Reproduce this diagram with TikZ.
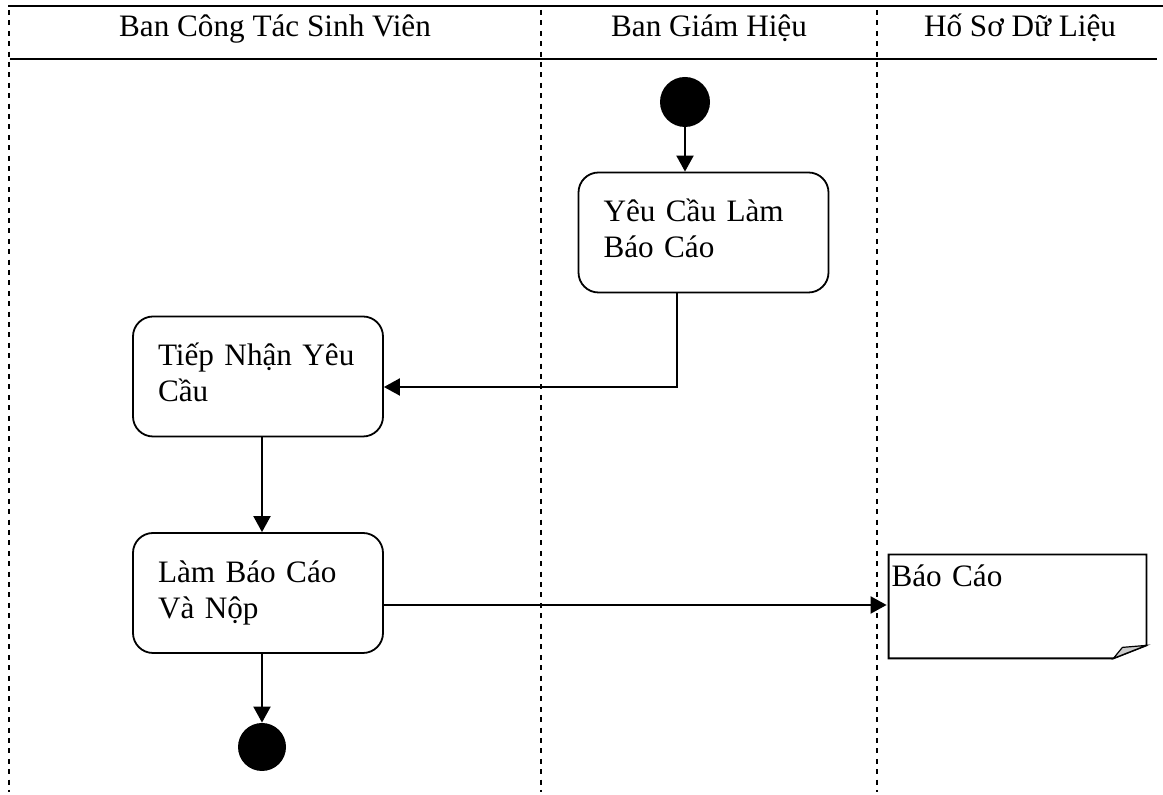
\documentclass[tikz,border=0pt]{standalone}
\usepackage{fontspec}
\setmainfont{Liberation Serif}
\usetikzlibrary{arrows.meta}
\definecolor{fold}{rgb}{0.8,0.8,0.8}
\tikzset{%
  lane/.style={line width=1pt,dash pattern=on 2.5pt off 2.7pt},
  action/.style={draw,line width=0.9pt,rounded corners=10pt,
    minimum width=125pt,minimum height=60pt,text width=100pt,
    inner xsep=12.5pt,align=left,text height=8.5pt,text depth=19pt},
  notebox/.style={minimum width=128.5pt,minimum height=51.5pt,
    text width=126pt,inner xsep=1.25pt,align=left,
    text height=4pt,text depth=23.5pt},
  dot/.style={circle,fill=black,inner sep=0pt,minimum size=#1},
  dot/.default=25pt,
  flow/.style={line width=1pt,-{Triangle[length=8pt,width=8.5pt]}},
  head/.style={anchor=base}
}

\begin{document}
\begin{tikzpicture}[x=0.5pt,y=-0.5pt,font=\fontsize{15.6}{18}\selectfont]
  \useasboundingbox (0,0) rectangle (1163,795);
  %%% Swimlanes
  \draw[line width=1.4pt] (8,6) -- (1163,6);
  \draw[line width=1pt] (10,59) -- (1157,59);
  \foreach \x in {9,541,877} \draw[lane] (\x,10) -- (\x,792);
  \node[head] (bctsv) at (275,37) {Ban Công Tác Sinh Viên};
  \node[head] (bgh) at (709,37) {Ban Giám Hiệu};
  \node[head] (hsdl) at (1020,37) {Hố Sơ Dữ Liệu};
  %
  \node[dot] (start) at (685,102) {};
  \node[dot=24pt] (stop) at (262,747) {};
  %
  \node[action] (yc) at (703.5,232.5) {Yêu Cầu Làm\\Báo Cáo};
  \node[action] (tn) at (258,376.5) {Tiếp Nhận Yêu\\Cầu};
  \node[action] (lb) at (258,593) {Làm Báo Cáo\\Và Nộp};
  %%% Report document
  \node[notebox] (bc) at (1017.5,606.5) {Báo Cáo};
  \draw[line width=0.9pt] (bc.north west) -- (bc.north east)
    -- ([yshift=6.5pt]bc.south east) -- ([xshift=-16.5pt]bc.south east)
    -- (bc.south west) -- cycle;
  \filldraw[fill=fold,line width=0.6pt] ([xshift=-16.5pt]bc.south east)
    -- ([xshift=-12pt,yshift=5.5pt]bc.south east)
    -- ([yshift=6.5pt]bc.south east) -- cycle;
  %%% Flows
  \coordinate (turn) at (677,387);
  \coordinate (send) at (383,605);
  \draw[flow] (start.south) -- (start.south |- yc.north);
  \draw[flow] (yc.south -| turn) -- (turn) -- (turn -| tn.east);
  \draw[flow] (tn.south -| stop) -- (lb.north -| stop);
  \draw[flow,shorten >=1pt] (lb.east |- send) -- (bc.west |- send);
  \draw[flow] (lb.south -| stop) -- (stop.north);
  %%
\end{tikzpicture}
\end{document}
